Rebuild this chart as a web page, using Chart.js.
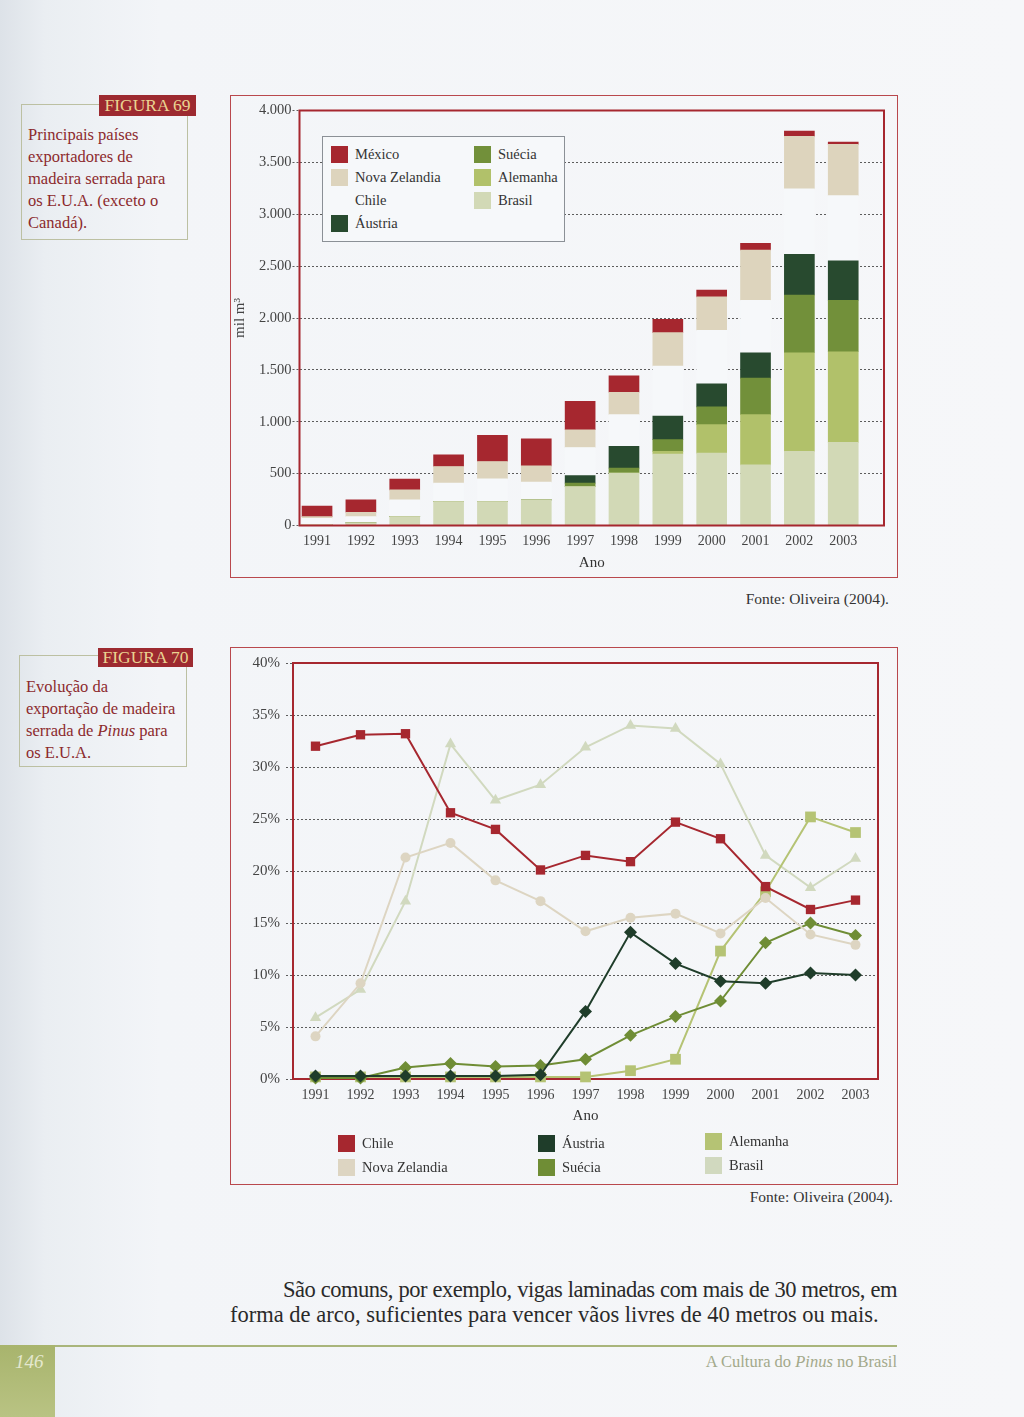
<!DOCTYPE html>
<html lang="pt-BR">
<head>
<meta charset="utf-8">
<title>Figuras 69 e 70 - Exportação de madeira serrada</title>
<script src="https://cdn.jsdelivr.net/npm/chart.js@4.4.1/dist/chart.umd.min.js"></script>
<style>
  html, body { margin: 0; padding: 0; }
  body {
    width: 1024px; height: 1417px; position: relative; overflow: hidden;
    font-family: "Liberation Serif", "DejaVu Serif", serif;
    background: linear-gradient(to right, #dde2e8 0px, #eaeef2 45px, #f3f5f8 160px, #f6f7f9 100%);
  }
  .capbox {
    position: absolute; box-sizing: border-box; border: 1px solid #bcc0a2;
    color: #8c2a2d; font-size: 16.5px; line-height: 22px; padding: 19px 0 0 6px;
  }
  .figlabel {
    position: absolute; background: #9d2a30; color: #ead391;
    font-size: 17.5px; text-align: center;
  }
  .frame { position: absolute; box-sizing: border-box; border: 1px solid #b9484d; }
  .fonte { position: absolute; font-size: 15.5px; color: #333; text-align: right; white-space: nowrap; }
  canvas { position: absolute; }
  .leg1 {
    position: absolute; left: 322px; top: 136px; width: 243px; height: 106px;
    box-sizing: border-box; border: 1px solid #8b9096; background: #f6f8fa;
  }
  .item { position: absolute; font-size: 14.5px; color: #333; white-space: nowrap; line-height: 17px; }
  .item span.sw { display: inline-block; width: 17px; height: 17px; vertical-align: top; margin-right: 7px; }
  .linha {
    position: absolute; font-size: 22.5px; line-height: 25px; color: #2a2a2a; white-space: nowrap;
  }
</style>
</head>
<body>

<!-- FIGURA 69 -->
<div class="capbox" style="left:21px; top:104px; width:167px; height:136px;">
  Principais países<br>exportadores de<br>madeira serrada para<br>os E.U.A. (exceto o<br>Canadá).
</div>
<div class="figlabel" style="left:99px; top:95px; width:97px; height:21px; line-height:21px;">FIGURA 69</div>

<div class="frame" style="left:230px; top:95px; width:668px; height:483px;"></div>
<canvas id="grafico69" width="666" height="480" style="left:231px; top:96px;"></canvas>
<div class="leg1" id="legenda69"></div>
<div class="fonte" style="right:135px; top:590px;">Fonte: Oliveira (2004).</div>

<!-- FIGURA 70 -->
<div class="capbox" style="left:19px; top:655px; width:168px; height:112px; padding-top:20px;">
  Evolução da<br>exportação de madeira<br>serrada de <i>Pinus</i> para<br>os E.U.A.
</div>
<div class="figlabel" style="left:98px; top:648px; width:95px; height:19px; line-height:19px;">FIGURA 70</div>

<div class="frame" style="left:230px; top:647px; width:668px; height:538px;"></div>
<canvas id="grafico70" width="666" height="490" style="left:231px; top:648px;"></canvas>
<div id="legenda70"></div>
<div class="fonte" style="right:131px; top:1188px;">Fonte: Oliveira (2004).</div>

<div class="linha" style="left:283px; top:1277px; width:614px; text-align:justify; text-align-last:justify; letter-spacing:-0.5px;">São comuns, por exemplo, vigas laminadas com mais de 30 metros, em</div>
<div class="linha" style="left:230px; top:1302px;">forma de arco, suficientes para vencer vãos livres de 40 metros ou mais.</div>

<!-- rodapé -->
<div style="position:absolute; left:55px; top:1345px; width:842px; height:2px; background:#a9b57b;"></div>
<div style="position:absolute; left:0; top:1345px; width:55px; height:72px; background:linear-gradient(#a8b46d, #b9c383);"></div>
<div style="position:absolute; left:15px; top:1351px; font-size:19px; font-style:italic; color:#e4e8cf;">146</div>
<div style="position:absolute; right:127px; top:1352px; font-size:16.5px; color:#a3a98b; white-space:nowrap;">A Cultura do <i>Pinus</i> no Brasil</div>

<script>
// anos (categorias)
const anos = [1991, 1992, 1993, 1994, 1995, 1996, 1997, 1998, 1999, 2000, 2001, 2002, 2003];

// FIGURA 69 - volume exportado (mil m3)
const volBrasil       = [12, 25, 85, 230, 230, 247, 375, 505, 689, 698, 585, 714, 801];
const volAlemanha     = [0, 0, 0, 0, 0, 0, 0, 0, 25, 274, 484, 951, 874];
const volSuecia       = [0, 0, 0, 0, 0, 0, 33, 48, 113, 171, 351, 557, 496];
const volAustria      = [0, 0, 0, 0, 0, 0, 74, 209, 227, 222, 245, 391, 380];
const volChile        = [58, 60, 162, 178, 220, 171, 270, 307, 482, 516, 506, 631, 629];
const volNovaZelandia = [15, 43, 96, 161, 167, 157, 171, 215, 323, 322, 483, 506, 493];
const volMexico       = [103, 119, 104, 113, 251, 261, 274, 159, 128, 65, 65, 52, 23];
const volTicks        = [0, 500, 1000, 1500, 2000, 2500, 3000, 3500, 4000];

// FIGURA 70 - participação (%)
const pctChile        = [32.0, 33.1, 33.2, 25.6, 24.0, 20.1, 21.5, 20.9, 24.7, 23.1, 18.5, 16.3, 17.2];
const pctNovaZelandia = [4.1, 9.2, 21.3, 22.7, 19.1, 17.1, 14.2, 15.5, 15.9, 14.0, 17.4, 13.9, 12.9];
const pctAustria      = [0.3, 0.3, 0.3, 0.3, 0.3, 0.4, 6.5, 14.1, 11.1, 9.4, 9.2, 10.2, 10.0];
const pctSuecia       = [0.1, 0.1, 1.1, 1.5, 1.2, 1.3, 1.9, 4.2, 6.0, 7.5, 13.1, 15.0, 13.8];
const pctAlemanha     = [0.2, 0.2, 0.2, 0.2, 0.2, 0.2, 0.2, 0.8, 1.9, 12.3, 18.0, 25.2, 23.7];
const pctBrasil       = [5.9, 8.6, 17.1, 32.2, 26.8, 28.3, 31.9, 34.0, 33.7, 30.3, 21.5, 18.4, 21.2];
const pctTicks        = [0, 5, 10, 15, 20, 25, 30, 35, 40];

const fonte = "'Liberation Serif', 'DejaVu Serif', serif";
const vermelho = "#a6272f";

function milhar(v) {
  return String(v).replace(/\B(?=(\d{3})+(?!\d))/g, ".");
}

// moldura vermelha da área do gráfico
function moldura(antes) {
  const desenha = (chart) => {
    const a = chart.chartArea;
    const ctx = chart.ctx;
    ctx.save();
    ctx.strokeStyle = vermelho;
    ctx.lineWidth = 2;
    ctx.strokeRect(a.left, a.top, a.right - a.left, a.bottom - a.top);
    ctx.restore();
  };
  return antes
    ? { id: "molduraAntes", beforeDatasetsDraw: desenha }
    : { id: "molduraDepois", afterDatasetsDraw: desenha };
}

// ---------- FIGURA 69 ----------
const series69 = [
  { label: "Brasil", data: volBrasil, color: "#d2d9b6" },
  { label: "Alemanha", data: volAlemanha, color: "#b1c16a" },
  { label: "Suécia", data: volSuecia, color: "#72903a" },
  { label: "Áustria", data: volAustria, color: "#284a2f" },
  { label: "Chile", data: volChile, color: "#f6f8fa" },
  { label: "Nova Zelandia", data: volNovaZelandia, color: "#ddd4bd" },
  { label: "México", data: volMexico, color: vermelho },
];

new Chart(document.getElementById("grafico69"), {
  type: "bar",
  data: {
    datasets: series69.map((s) => ({
      label: s.label,
      data: anos.map((a, i) => ({ x: a, y: s.data[i] })),
      backgroundColor: s.color,
      borderWidth: 0,
      barThickness: 30,
    })),
  },
  options: {
    responsive: false,
    animation: false,
    layout: { padding: { top: 14.5, right: 13, left: 0, bottom: 0 } },
    plugins: { legend: { display: false }, tooltip: { enabled: false } },
    scales: {
      x: {
        type: "linear",
        stacked: true,
        offset: false,
        min: 1990.6,
        max: 2003.93,
        afterBuildTicks: (s) => { s.ticks = anos.map((v) => ({ value: v })); },
        afterFit: (s) => { s.height = 50.5; },
        grid: { display: false, drawTicks: false, offset: false },
        border: { display: false },
        ticks: {
          autoSkip: false, maxRotation: 0, padding: 7,
          color: "#444", font: { family: fonte, size: 14 },
          callback: (v) => String(v),
        },
        title: {
          display: true, text: "Ano", color: "#333",
          font: { family: fonte, size: 15 }, padding: { top: 0, bottom: 4 },
        },
      },
      y: {
        stacked: true,
        min: 0,
        max: 4000,
        afterBuildTicks: (s) => { s.ticks = volTicks.map((v) => ({ value: v })); },
        afterFit: (s) => { s.width = 68.5; },
        grid: {
          color: "#5c5c5c", lineWidth: 1,
          tickLength: 7, tickColor: "#5c5c5c", tickBorderDash: [2, 2],
        },
        border: { display: false, dash: [2, 2] },
        ticks: {
          padding: 1, color: "#444", font: { family: fonte, size: 14.5 },
          callback: (v) => milhar(v),
        },
        title: {
          display: true, text: "mil m³", color: "#444",
          font: { family: fonte, size: 15 }, padding: 0,
        },
      },
    },
  },
  plugins: [moldura(false)],
});

// legenda da figura 69 (duas colunas)
const leg1 = document.getElementById("legenda69");
const ordem69 = [
  ["México", "Nova Zelandia", "Chile", "Áustria"],
  ["Suécia", "Alemanha", "Brasil"],
];
ordem69.forEach((col, c) => {
  col.forEach((nome, r) => {
    const s = series69.find((x) => x.label === nome);
    const d = document.createElement("div");
    d.className = "item";
    d.style.left = (c === 0 ? 8 : 151) + "px";
    d.style.top = (9 + r * 23) + "px";
    d.innerHTML = '<span class="sw" style="background:' + s.color + '"></span>' + nome;
    leg1.appendChild(d);
  });
});

// ---------- FIGURA 70 ----------
const series70 = [
  { label: "Chile", data: pctChile, color: vermelho, point: "rect", r: 6.6 },
  { label: "Nova Zelandia", data: pctNovaZelandia, color: "#ddd5c2", point: "circle", r: 5 },
  { label: "Áustria", data: pctAustria, color: "#1f3d2a", point: "rectRot", r: 6.5 },
  { label: "Suécia", data: pctSuecia, color: "#6f8d35", point: "rectRot", r: 6.5 },
  { label: "Alemanha", data: pctAlemanha, color: "#b5c374", point: "rect", r: 7.6 },
  { label: "Brasil", data: pctBrasil, color: "#d1d9bf", point: "triangle", r: 6.5 },
];

new Chart(document.getElementById("grafico70"), {
  type: "line",
  data: {
    labels: anos.map(String),
    datasets: series70.map((s) => ({
      label: s.label,
      data: s.data,
      borderColor: s.color,
      backgroundColor: s.color,
      borderWidth: 2,
      pointStyle: s.point,
      pointRadius: s.r,
      pointBorderWidth: 0,
      tension: 0,
      clip: false,
    })),
  },
  options: {
    responsive: false,
    animation: false,
    layout: { padding: { top: 14, right: 19, left: 0, bottom: 0 } },
    plugins: { legend: { display: false }, tooltip: { enabled: false } },
    scales: {
      x: {
        offset: true,
        afterFit: (s) => { s.height = 59; },
        grid: { display: false, drawTicks: false },
        border: { display: false },
        ticks: {
          autoSkip: false, maxRotation: 0, padding: 8,
          color: "#444", font: { family: fonte, size: 14 },
        },
        title: {
          display: true, text: "Ano", color: "#333",
          font: { family: fonte, size: 15 }, padding: { top: 0, bottom: 13 },
        },
      },
      y: {
        min: 0,
        max: 40,
        afterBuildTicks: (s) => { s.ticks = pctTicks.map((v) => ({ value: v })); },
        afterFit: (s) => { s.width = 62; },
        grid: {
          color: "#5c5c5c", lineWidth: 1,
          tickLength: 7, tickColor: "#5c5c5c", tickBorderDash: [2, 2],
        },
        border: { display: false, dash: [2, 2] },
        ticks: {
          padding: 6, color: "#444", font: { family: fonte, size: 15 },
          callback: (v) => v + "%",
        },
      },
    },
  },
  plugins: [moldura(true)],
});

// legenda da figura 70 (três colunas)
const leg2 = document.getElementById("legenda70");
const ordem70 = [["Chile", "Nova Zelandia"], ["Áustria", "Suécia"], ["Alemanha", "Brasil"]];
const colX = [338, 538, 705];
ordem70.forEach((col, c) => {
  col.forEach((nome, r) => {
    const s = series70.find((x) => x.label === nome);
    const d = document.createElement("div");
    d.className = "item";
    d.style.left = colX[c] + "px";
    d.style.top = (1135 + r * 24 - (c === 2 ? 2 : 0)) + "px";
    d.innerHTML = '<span class="sw" style="background:' + s.color + '"></span>' + nome;
    leg2.appendChild(d);
  });
});
</script>
</body>
</html>
